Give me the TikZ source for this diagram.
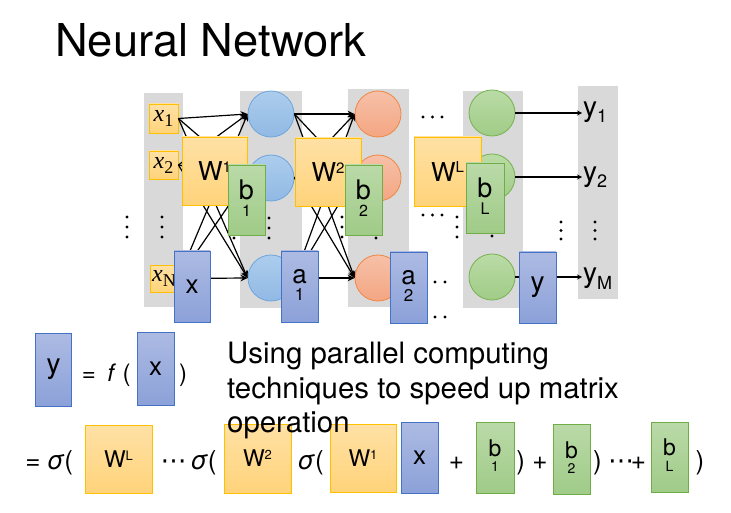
\documentclass[tikz,border=0pt]{standalone}
\usepackage{fontspec}
\setmainfont{TeX Gyre Heros}
\newfontfamily\timesf{Liberation Serif}
\newfontfamily\djv{DejaVu Sans}
\usetikzlibrary{arrows.meta}
\definecolor{colgray}{RGB}{217,217,217}
\definecolor{wtop}{RGB}{255,225,165}
\definecolor{wbot}{RGB}{255,211,122}
\definecolor{wline}{RGB}{255,192,0}
\definecolor{gtop}{RGB}{186,218,168}
\definecolor{gbot}{RGB}{160,203,136}
\definecolor{gline}{RGB}{112,173,71}
\definecolor{btop}{RGB}{173,187,227}
\definecolor{bbot}{RGB}{140,161,217}
\definecolor{bline}{RGB}{68,114,196}
\definecolor{cbtop}{RGB}{172,205,237}
\definecolor{cbbot}{RGB}{145,185,228}
\definecolor{cbline}{RGB}{110,165,220}
\definecolor{crtop}{RGB}{246,192,168}
\definecolor{crbot}{RGB}{244,166,130}
\definecolor{crline}{RGB}{240,135,70}
\definecolor{cgtop}{RGB}{186,219,166}
\definecolor{cgbot}{RGB}{160,204,135}
\definecolor{cgline}{RGB}{120,178,80}
\newcommand{\netW}[1]{\fontsize{26}{26}\selectfont W\raisebox{8.5pt}{\fontsize{15}{15}\selectfont #1}}
\newcommand{\eqW}[1]{\fontsize{23}{23}\selectfont W\raisebox{7pt}{\fontsize{13}{13}\selectfont #1}}
\newcommand{\netb}[1]{\begin{tabular}{@{}c@{}}\fontsize{27}{27}\selectfont b\\[1.5pt]\fontsize{16}{16}\selectfont #1\end{tabular}}
\newcommand{\eqb}[1]{\begin{tabular}{@{}c@{}}\fontsize{23}{23}\selectfont b\\[1.5pt]\fontsize{14}{14}\selectfont #1\end{tabular}}
\newcommand{\neta}[1]{\begin{tabular}{@{}c@{}}\fontsize{26}{26}\selectfont a\\[1.5pt]\fontsize{17}{17}\selectfont #1\end{tabular}}
\newcommand{\xlab}[1]{{\timesf\fontsize{24}{24}\selectfont\textit{x}\raisebox{-5pt}{\fontsize{18}{18}\selectfont #1}}}
\newcommand{\ylab}[1]{{\fontsize{28}{28}\selectfont y\raisebox{-6pt}{\fontsize{18}{18}\selectfont #1}}}
\newcommand{\vdts}[2]{\fill (#1,#2-10) circle (1.6) (#1,#2) circle (1.6) (#1,#2+10) circle (1.6);}
\newcommand{\hdtsc}[2]{\fill (#1,#2) circle (1.6) (#1+9.5,#2) circle (1.6) (#1+19,#2) circle (1.6);}
\begin{document}
\begin{tikzpicture}[x=1pt,y=-1pt,
  wbox/.style={rectangle, draw=wline, line width=0.8pt, top color=wtop, bottom color=wbot, inner sep=0pt},
  gbox/.style={rectangle, draw=gline, line width=0.8pt, top color=gtop, bottom color=gbot, inner sep=0pt},
  bbox/.style={rectangle, draw=bline, line width=0.8pt, top color=btop, bottom color=bbot, inner sep=0pt},
  neu/.style={circle, minimum size=46pt, inner sep=0pt, line width=0.8pt},
  bneu/.style={neu, draw=cbline, top color=cbtop, bottom color=cbbot},
  rneu/.style={neu, draw=crline, top color=crtop, bottom color=crbot},
  gneu/.style={neu, draw=cgline, top color=cgtop, bottom color=cgbot},
  arr/.style={line width=1.2pt, -{Stealth[length=7pt,width=6.5pt]}},
  arrs/.style={line width=1.2pt, -{Stealth[length=5pt,width=5pt]}},
  op/.style={inner sep=0pt, anchor=base, font=\fontsize{26}{26}\selectfont},
  opt/.style={inner sep=0pt, anchor=base, font=\fontsize{24}{24}\selectfont},
  body/.style={inner sep=0pt, anchor=base west, font=\fontsize{29.4}{34}\selectfont}]
\useasboundingbox (0,0) rectangle (731,513);
\fill[white] (0,0) rectangle (731,513);
% title
\node[inner sep=0pt, anchor=base west, font=\fontsize{45.3}{45}\selectfont] (title) at (55,57) {Neural Network};
% gray columns
\fill[colgray] (144,93) rectangle (183,307);
\fill[colgray] (240,91) rectangle (302,308);
\fill[colgray] (348,89) rectangle (409,307);
\fill[colgray] (463,91) rectangle (523,308);
\fill[colgray] (578,86) rectangle (618,299);
% dots
\vdts{127}{227}
\vdts{162}{227}
\vdts{234}{228}
\vdts{269}{228}
\vdts{342}{227}
\vdts{376}{228}
\vdts{457}{227}
\vdts{492}{226}
\fill (561,222) circle (1.6) (561,230.5) circle (1.6) (561,239) circle (1.6);
\fill (595,222) circle (1.6) (595,230.5) circle (1.6) (595,239) circle (1.6);
\hdtsc{423}{117}
\hdtsc{423}{215}
\fill (435,282) circle (1.6) (445,282) circle (1.6);
\fill (435,317) circle (1.6) (445,317) circle (1.6);
% inputs
\node[wbox, minimum width=29pt, minimum height=29pt] (x1) at (163.5,118.5) {\xlab{1}};
\node[wbox, minimum width=29pt, minimum height=28pt] (x2) at (163.5,165) {\xlab{2}};
\node[wbox, minimum width=28pt, minimum height=27pt] (xN) at (164,278.5) {\xlab{N}};
% neurons
\node[bneu] (c1) at (271,114) {};
\node[bneu] (c2) at (271,178) {};
\node[bneu] (c3) at (271,278) {};
\node[rneu] (r1) at (378,114) {};
\node[rneu] (r2) at (378,178) {};
\node[rneu] (r3) at (378,278) {};
\node[gneu] (g1) at (492,113) {};
\node[gneu] (g2) at (492,177) {};
\node[gneu] (g3) at (492,277) {};
% outputs
\node[inner sep=1pt, anchor=base west] (o1) at (582,117) {\ylab{1}};
\node[inner sep=1pt, anchor=base west] (o2) at (582,182) {\ylab{2}};
\node[inner sep=1pt, anchor=base west] (oM) at (582,283) {\ylab{M}};
% connections
\foreach \s in {x1,x2,xN} \foreach \t in {c1,c2,c3} \draw[arr] (\s.east) -- (\t.west);
\foreach \s in {c1,c2,c3} \foreach \t in {r1,r2,r3} \draw[arr] (\s.east) -- (\t.west);
\draw[arrs] (g1.east) -- (g1.east -| o1.west);
\draw[arrs] (g2.east) -- (g2.east -| o2.west);
\draw[arrs] (g3.east) -- (g3.east -| oM.west);
% parameter boxes in the network
\node[wbox, minimum width=65pt, minimum height=68pt] (W1) at (214.5,171) {\netW{1}};
\node[gbox, minimum width=37pt, minimum height=70pt] (b1) at (246.5,200) {\netb{1}};
\node[bbox, minimum width=36pt, minimum height=71pt] (xv) at (192,286.5) {\fontsize{26}{26}\selectfont x};
\node[wbox, minimum width=66pt, minimum height=68pt] (W2) at (328,172) {\netW{2}};
\node[gbox, minimum width=37pt, minimum height=70pt] (b2) at (363.5,200) {\netb{2}};
\node[bbox, minimum width=37pt, minimum height=71pt] (a1) at (299.5,286.5) {\neta{1}};
\node[bbox, minimum width=37pt, minimum height=71pt] (a2) at (408.5,287.5) {\neta{2}};
\node[wbox, minimum width=67pt, minimum height=69pt] (WL) at (447.5,171.5) {\netW{L}};
\node[gbox, minimum width=38pt, minimum height=70pt] (bL) at (485,198) {\netb{L}};
\node[bbox, minimum width=37pt, minimum height=71pt] (yv) at (537.5,287.5) {\fontsize{28}{28}\selectfont y};
% y = f(x)
\node[bbox, minimum width=36pt, minimum height=73pt] (yf) at (53.5,369.5) {\fontsize{28}{28}\selectfont y};
\node[opt] (eqa) at (89,381) {=};
\node[opt] (fpar) at (119,381) {\textit{f} (};
\node[bbox, minimum width=37pt, minimum height=73pt] (xf) at (155.5,368.5) {\fontsize{26}{26}\selectfont x};
\node[opt] (rpa) at (183,381) {)};
% expanded formula
\node[op] (eqb) at (33,469) {=};
\node[op] (sg1) at (60,469) {\textit{σ}(};
\node[wbox, minimum width=67pt, minimum height=68pt] (WLe) at (118.5,459) {\eqW{L}};
\node[op] (cd1) at (173.5,469) {\djv ⋯};
\node[op] (sg2) at (203.5,469) {\textit{σ}(};
\node[wbox, minimum width=67pt, minimum height=69pt] (W2e) at (257.5,458.5) {\eqW{2}};
\node[op] (sg3) at (310.5,469) {\textit{σ}(};
\node[wbox, minimum width=66pt, minimum height=68pt] (W1e) at (363,458) {\eqW{1}};
\node[bbox, minimum width=37pt, minimum height=71pt] (xe) at (419.5,457.5) {\fontsize{26}{26}\selectfont x};
\node[op] (pl1) at (456.5,469) {+};
\node[gbox, minimum width=38pt, minimum height=71pt] (b1e) at (495,457.5) {\eqb{1}};
\node[op] (rp1) at (532,469) {) +};
\node[gbox, minimum width=37pt, minimum height=70pt] (b2e) at (571.5,459) {\eqb{2}};
\node[op] (rp2) at (597.5,469) {)};
\node[op] (cd2) at (621,469) {\djv ⋯};
\node[op] (pl3) at (638.5,469) {+};
\node[gbox, minimum width=37pt, minimum height=70pt] (bLe) at (669.5,457) {\eqb{L}};
\node[op] (rp3) at (700,469) {)};
% explanatory text
\node[body] (t1) at (227,363.5) {Using parallel computing};
\node[body] (t2) at (227,398) {techniques to speed up matrix};
\node[body] (t3) at (227,432) {operation};
\end{tikzpicture}
\end{document}
